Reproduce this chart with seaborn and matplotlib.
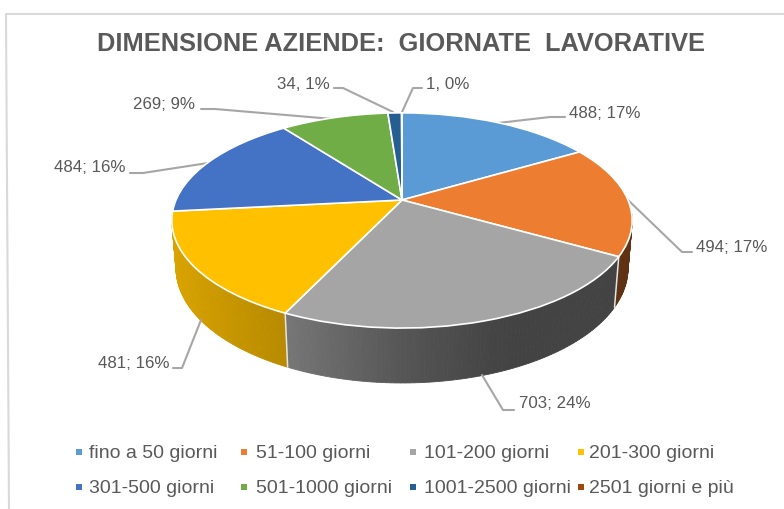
import numpy as np
import seaborn as sns
import matplotlib
matplotlib.use("Agg")
import matplotlib.pyplot as plt
from matplotlib.transforms import Transform

categories = ["fino a 50 giorni", "51-100 giorni", "101-200 giorni", "201-300 giorni",
              "301-500 giorni", "501-1000 giorni", "1001-2500 giorni", "2501 giorni e più"]
values = [488, 494, 703, 481, 484, 269, 34, 1]
labels = ["488; 17%", "494; 17%", "703; 24%", "481; 16%", "484; 16%", "269; 9%", "34, 1%", "1, 0%"]
colors = ["#5B9BD5", "#ED7D31", "#A5A5A5", "#FFC000", "#4472C4", "#70AD47", "#255E91", "#9E480E"]
title = "DIMENSIONE AZIENDE:  GIORNATE  LAVORATIVE"

sns.set_theme(style="white")
plt.rcParams["font.family"] = ["Liberation Sans"]
palette = sns.color_palette(colors)
text_col = "#595959"


# perspective of the tilted disc, in pixels of the figure
def project(u, y, sink=0.0, drop=0.0):
    s = 1 / (1 + 0.19 * y + sink)
    return 402 + 226 * u * s, 200 + (-103.7 * y + drop) * s


class Tilt(Transform):
    input_dims = 2
    output_dims = 2

    def transform_non_affine(self, xy):
        xy = np.asarray(xy)
        px, py = project(xy[:, 0], xy[:, 1])
        return np.column_stack([px, py])


fig, ax = plt.subplots(figsize=(7.84, 5.09), dpi=100)
ax.set_position([0, 0, 1, 1])

wedges, _ = ax.pie(values, colors=palette, startangle=90, counterclock=False,
                   wedgeprops=dict(edgecolor="white", linewidth=1.2, zorder=5))
ax.set_aspect("auto")
ax.set_xlim(0, 784)
ax.set_ylim(509, 0)
ax.axis("off")

tilt = Tilt() + ax.transData
for w in wedges:
    w.set_transform(tilt)


# side wall: lighter on the left, dark on the right
def shade(u):
    return np.interp(u, [-1, -0.43, 0, 0.35, 1], [0.87, 0.72, 0.52, 0.41, 0.40])


for w, col in zip(wedges, palette):
    steps = np.arange(w.theta1, w.theta2, 1.0)
    steps = np.append(steps, w.theta2)
    for a, b in zip(steps[:-1], steps[1:]):
        if np.sin(np.radians((a + b) / 2)) > -0.11:
            continue
        t = np.radians([a, b])
        tx, ty = project(np.cos(t), np.sin(t))
        bx, by = project(np.cos(t), np.sin(t), 0.018, 47.8)
        c = tuple(np.array(col) * shade(np.cos(t).mean()))
        ax.fill([tx[0], tx[1], bx[1], bx[0]], [ty[0], ty[1], by[1], by[0]],
                color=c, lw=0.6, zorder=2)
    # white seam at the end of the slice
    t = np.radians(w.theta1)
    if np.sin(t) < -0.2:
        tx, ty = project(np.cos(t), np.sin(t))
        bx, by = project(np.cos(t), np.sin(t), 0.018, 47.8)
        ax.plot([tx, bx], [ty, by], color="#e4e4e4", lw=1.1, zorder=3)

# frame of the chart
ax.plot([9, 6, 784], [509, 14, 14], color="#d9d9d9", lw=1.5, zorder=1)

ax.text(401, 44, title, fontsize=18.3, fontweight="bold", color=text_col, ha="center", va="center")

# leader lines and data labels
leaders = [[(565, 117), (550, 117), (498, 123)],
           [(692, 252), (682, 252), (628, 200)],
           [(514, 410), (503, 410), (482, 375)],
           [(173, 368), (182, 368), (201, 320)],
           [(130, 173), (143, 173), (208, 163)],
           [(201, 109), (215, 109), (333, 119)],
           [(334, 88), (343, 88), (393, 112)],
           [(422, 88), (413, 88), (402, 112)]]
label_pos = [(605, 113), (732, 248), (555, 404), (134, 363), (90, 168), (164, 104), (303, 84), (448, 84)]
for line, pos, lab in zip(leaders, label_pos, labels):
    xs, ys = zip(*line)
    ax.plot(xs, ys, color="#a6a6a6", lw=1.5, zorder=4)
    ax.text(pos[0], pos[1], lab, fontsize=12.2, color=text_col, ha="center", va="center")

# legend, four columns on two rows
mark_x = [79, 244, 413, 581]
text_x = [89, 256, 424, 589]
row_y = [452, 487]
for i, (cat, col) in enumerate(zip(categories, palette)):
    y = row_y[i // 4]
    ax.scatter([mark_x[i % 4]], [y], marker="s", s=22, color=[col], linewidths=0, zorder=4)
    ax.text(text_x[i % 4], y + 1.5, cat, fontsize=14, color=text_col, ha="left", va="center")

fig.savefig("out.png", dpi=100)
